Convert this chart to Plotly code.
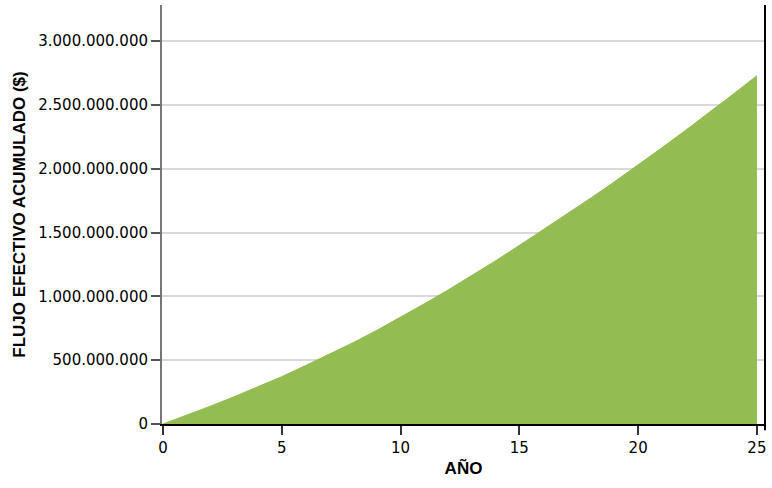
import plotly.graph_objects as go

# datos
anios = list(range(0, 26))
flujo_acumulado = [
    0, 68e6, 140e6, 214e6, 290e6, 371e6, 458e6, 546e6, 637e6, 734e6,
    836e6, 942e6, 1050e6, 1162e6, 1279e6, 1400e6, 1522e6, 1646e6, 1770e6,
    1898e6, 2030e6, 2165e6, 2302e6, 2442e6, 2585e6, 2730e6,
]
y_ticks = [0, 500e6, 1000e6, 1500e6, 2000e6, 2500e6, 3000e6]
x_ticks = [0, 5, 10, 15, 20, 25]

verde = '#93bc53'

fig = go.Figure(go.Scatter(
    x=anios,
    y=flujo_acumulado,
    mode='lines',
    fill='tozeroy',
    fillcolor=verde,
    line=dict(color=verde, width=1),
    hoverinfo='skip',
    showlegend=False,
))

fig.update_layout(
    width=772,
    height=488,
    margin=dict(l=162, r=7, t=5, b=64),
    plot_bgcolor='white',
    paper_bgcolor='white',
    separators=',.',
    font=dict(family='DejaVu Sans', color='black'),
    xaxis=dict(
        range=[-0.04, 25.34],
        tickvals=x_ticks,
        ticks='outside',
        ticklen=9,
        tickwidth=2,
        tickcolor='#333333',
        showline=True,
        linecolor='black',
        linewidth=2,
        showgrid=False,
        zeroline=False,
        automargin=False,
        tickfont=dict(size=15),
        title=dict(text='<b>AÑO</b>', font=dict(family='Liberation Sans', size=17), standoff=6),
    ),
    yaxis=dict(
        range=[0, 3.284e9],
        tickvals=y_ticks,
        tickformat=',d',
        ticks='outside',
        ticklen=9,
        tickwidth=2,
        tickcolor='#555555',
        showline=True,
        linecolor='#777777',
        linewidth=2,
        showgrid=True,
        gridcolor='#d9d9d9',
        gridwidth=1.5,
        zeroline=False,
        automargin=False,
        tickfont=dict(size=15),
        title=dict(text='<b>FLUJO EFECTIVO ACUMULADO ($)</b>', font=dict(family='Liberation Sans', size=17), standoff=8),
    ),
    # línea vertical del borde derecho
    shapes=[dict(type='line', xref='paper', yref='paper', x0=1, x1=1, y0=-0.015, y1=1,
                 line=dict(color='black', width=2))],
)

# quitar el margen por defecto del body para que la figura empiece en (0, 0)
fig.write_html('out.html', config={'displayModeBar': False},
               post_script="document.body.style.margin='0';")
